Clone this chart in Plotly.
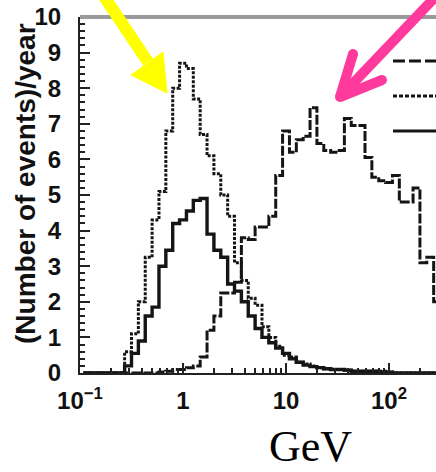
import numpy as np
import plotly.graph_objects as go

# Log-spaced binning: 15 bins per decade, bins centred on 10**(k/15) GeV
BINS_PER_DECADE = 15
N_BINS = 52
log_edges = -1 + (np.arange(N_BINS + 1) + 0.5) / BINS_PER_DECADE
edges_gev = 10 ** log_edges

# Events per year in each bin
dotted_vals = [0, 0, 0, 0, 0, 0, 0.6, 1.1, 2.0, 3.25,
               4.3, 5.1, 6.8, 8.0, 8.7, 8.55, 7.7, 6.7, 6.1, 5.6,
               5.0, 4.4, 3.1, 2.6, 2.1, 1.9, 1.3, 1.0, 0.75, 0.5,
               0.45, 0.3, 0.25, 0.2, 0.15, 0.12, 0.1, 0.1, 0.08, 0.05,
               0.05, 0.05, 0.05, 0.05, 0.03, 0, 0, 0, 0, 0,
               0, 0]
solid_vals = [0, 0, 0, 0, 0, 0, 0.2, 0.55, 0.9, 1.6,
              1.85, 3.0, 3.45, 4.2, 4.3, 4.55, 4.85, 4.9, 3.9, 3.45,
              3.25, 2.5, 2.3, 2.0, 1.6, 1.25, 1.0, 0.85, 0.7, 0.55,
              0.4, 0.3, 0.22, 0.18, 0.15, 0.12, 0.1, 0.1, 0.08, 0.05,
              0.05, 0.05, 0.05, 0.03, 0.02, 0, 0, 0, 0, 0,
              0, 0]
dashed_vals = [0, 0, 0, 0, 0, 0, 0, 0, 0, 0,
               0, 0.03, 0.05, 0.1, 0.1, 0.15, 0.2, 0.45, 1.2, 1.6,
               2.25, 2.25, 2.55, 3.8, 3.75, 4.1, 4.1, 4.4, 5.55, 6.8,
               6.2, 6.55, 6.65, 7.45, 6.45, 6.25, 6.2, 6.25, 7.15, 6.95,
               6.95, 6.05, 5.5, 5.4, 5.35, 5.55, 4.8, 4.8, 5.2, 3.1,
               3.25, 2.0]

x_tickvals = [0.1, 1, 10, 100]
x_ticktext = ["10<sup>−1</sup>", "1", "10", "10<sup>2</sup>"]
y_tickvals = list(range(0, 11))

W, H = 436, 472
ML, MR, MT, MB = 80, 0, 17, 99
PW, PH = W - ML - MR, H - MT - MB
X_LOG_MAX = 2.456


def px(x):
    return (x - ML) / PW


def py(y):
    return (H - MB - y) / PH


def steps(vals):
    return list(edges_gev), list(vals) + [vals[-1]]


fig = go.Figure()
for vals, dash, width in [(dashed_vals, "10px,2px", 3.0),
                          (dotted_vals, "3px,1.5px", 3.0),
                          (solid_vals, "solid", 3.4)]:
    xs, ys = steps(vals)
    fig.add_trace(go.Scatter(x=xs, y=ys, mode="lines",
                             line=dict(shape="hv", color="#151515", width=width, dash=dash),
                             hoverinfo="skip"))

tick_font = dict(family="Liberation Sans", size=24, color="#111", weight="bold")

minor_x = [m * 10.0 ** d for d in range(-1, 3) for m in range(2, 10)]

fig.update_xaxes(type="log", range=[-1, X_LOG_MAX],
                 showline=True, linecolor="#222", linewidth=2,
                 ticks="inside", ticklen=10, tickwidth=1.5, tickcolor="#222",
                 tickmode="array", tickvals=x_tickvals, ticktext=x_ticktext,
                 tickfont=tick_font, ticklabelstandoff=5,
                 minor=dict(ticks="inside", ticklen=5, tickwidth=1.5, tickcolor="#222",
                            tickmode="array", tickvals=minor_x, showgrid=False),
                 showgrid=False, zeroline=False)
fig.update_yaxes(range=[0, 10], showline=True, linecolor="#222", linewidth=2,
                 ticks="inside", ticklen=10, tickwidth=1.5, tickcolor="#222",
                 tickmode="array", tickvals=y_tickvals, tickfont=tick_font,
                 ticklabelstandoff=12,
                 minor=dict(ticks="inside", ticklen=5, tickwidth=1.5, tickcolor="#222",
                            dtick=0.2, showgrid=False),
                 showgrid=False, zeroline=False)

shapes = []
# grey top frame
shapes.append(dict(type="line", xref="paper", yref="paper", x0=0, x1=1.05, y0=1, y1=1,
                   line=dict(color="#9a9a9a", width=4)))

# legend line samples (text lies beyond the visible area)
for y_pix, dash in [(61, "12px,4px"), (96, "4px,2px"), (131, "solid")]:
    shapes.append(dict(type="line", xref="paper", yref="paper",
                       x0=px(393), x1=px(440), y0=py(y_pix), y1=py(y_pix),
                       line=dict(color="#151515", width=2.8, dash=dash)))

# yellow arrow
shapes.append(dict(type="line", xref="paper", yref="paper",
                   x0=px(103), y0=py(-5), x1=px(148), y1=py(62),
                   line=dict(color="#ffff00", width=12)))
tri = [(167, 93), (131, 75), (163, 52)]
path = "M {} {} L {} {} L {} {} Z".format(*[v for p in tri for v in (px(p[0]), py(p[1]))])
shapes.append(dict(type="path", xref="paper", yref="paper", path=path,
                   fillcolor="#ffff00", line=dict(color="#ffff00", width=1)))

# pink arrow
pink = "#ff3a9c"
shapes.append(dict(type="line", xref="paper", yref="paper",
                   x0=px(341), y0=py(96), x1=px(440), y1=py(-8),
                   line=dict(color=pink, width=10)))
for bx, by in [(353, 54), (382, 80)]:
    shapes.append(dict(type="line", xref="paper", yref="paper",
                       x0=px(340), y0=py(97), x1=px(bx), y1=py(by),
                       line=dict(color=pink, width=10)))
    shapes.append(dict(type="circle", xref="paper", yref="paper",
                       x0=px(bx - 5), x1=px(bx + 5), y0=py(by + 5), y1=py(by - 5),
                       fillcolor=pink, line=dict(width=0)))
shapes.append(dict(type="circle", xref="paper", yref="paper",
                   x0=px(335), x1=px(345), y0=py(102), y1=py(92),
                   fillcolor=pink, line=dict(width=0)))

annotations = [
    dict(text="(Number of events)/year", xref="paper", yref="paper",
         x=px(25), y=py(184), showarrow=False, textangle=-90,
         font=dict(family="Liberation Sans", size=28, color="#111", weight="bold"),
         xanchor="center", yanchor="middle"),
    dict(text="GeV", xref="paper", yref="paper", x=px(310), y=py(472),
         showarrow=False, font=dict(family="Liberation Serif", size=44, color="#000"),
         xanchor="center", yanchor="bottom", borderpad=0),
]

fig.update_layout(width=W, height=H, margin=dict(l=ML, r=MR, t=MT, b=MB),
                  paper_bgcolor="white", plot_bgcolor="white", showlegend=False,
                  shapes=shapes, annotations=annotations)

fig.write_html("out.html")
